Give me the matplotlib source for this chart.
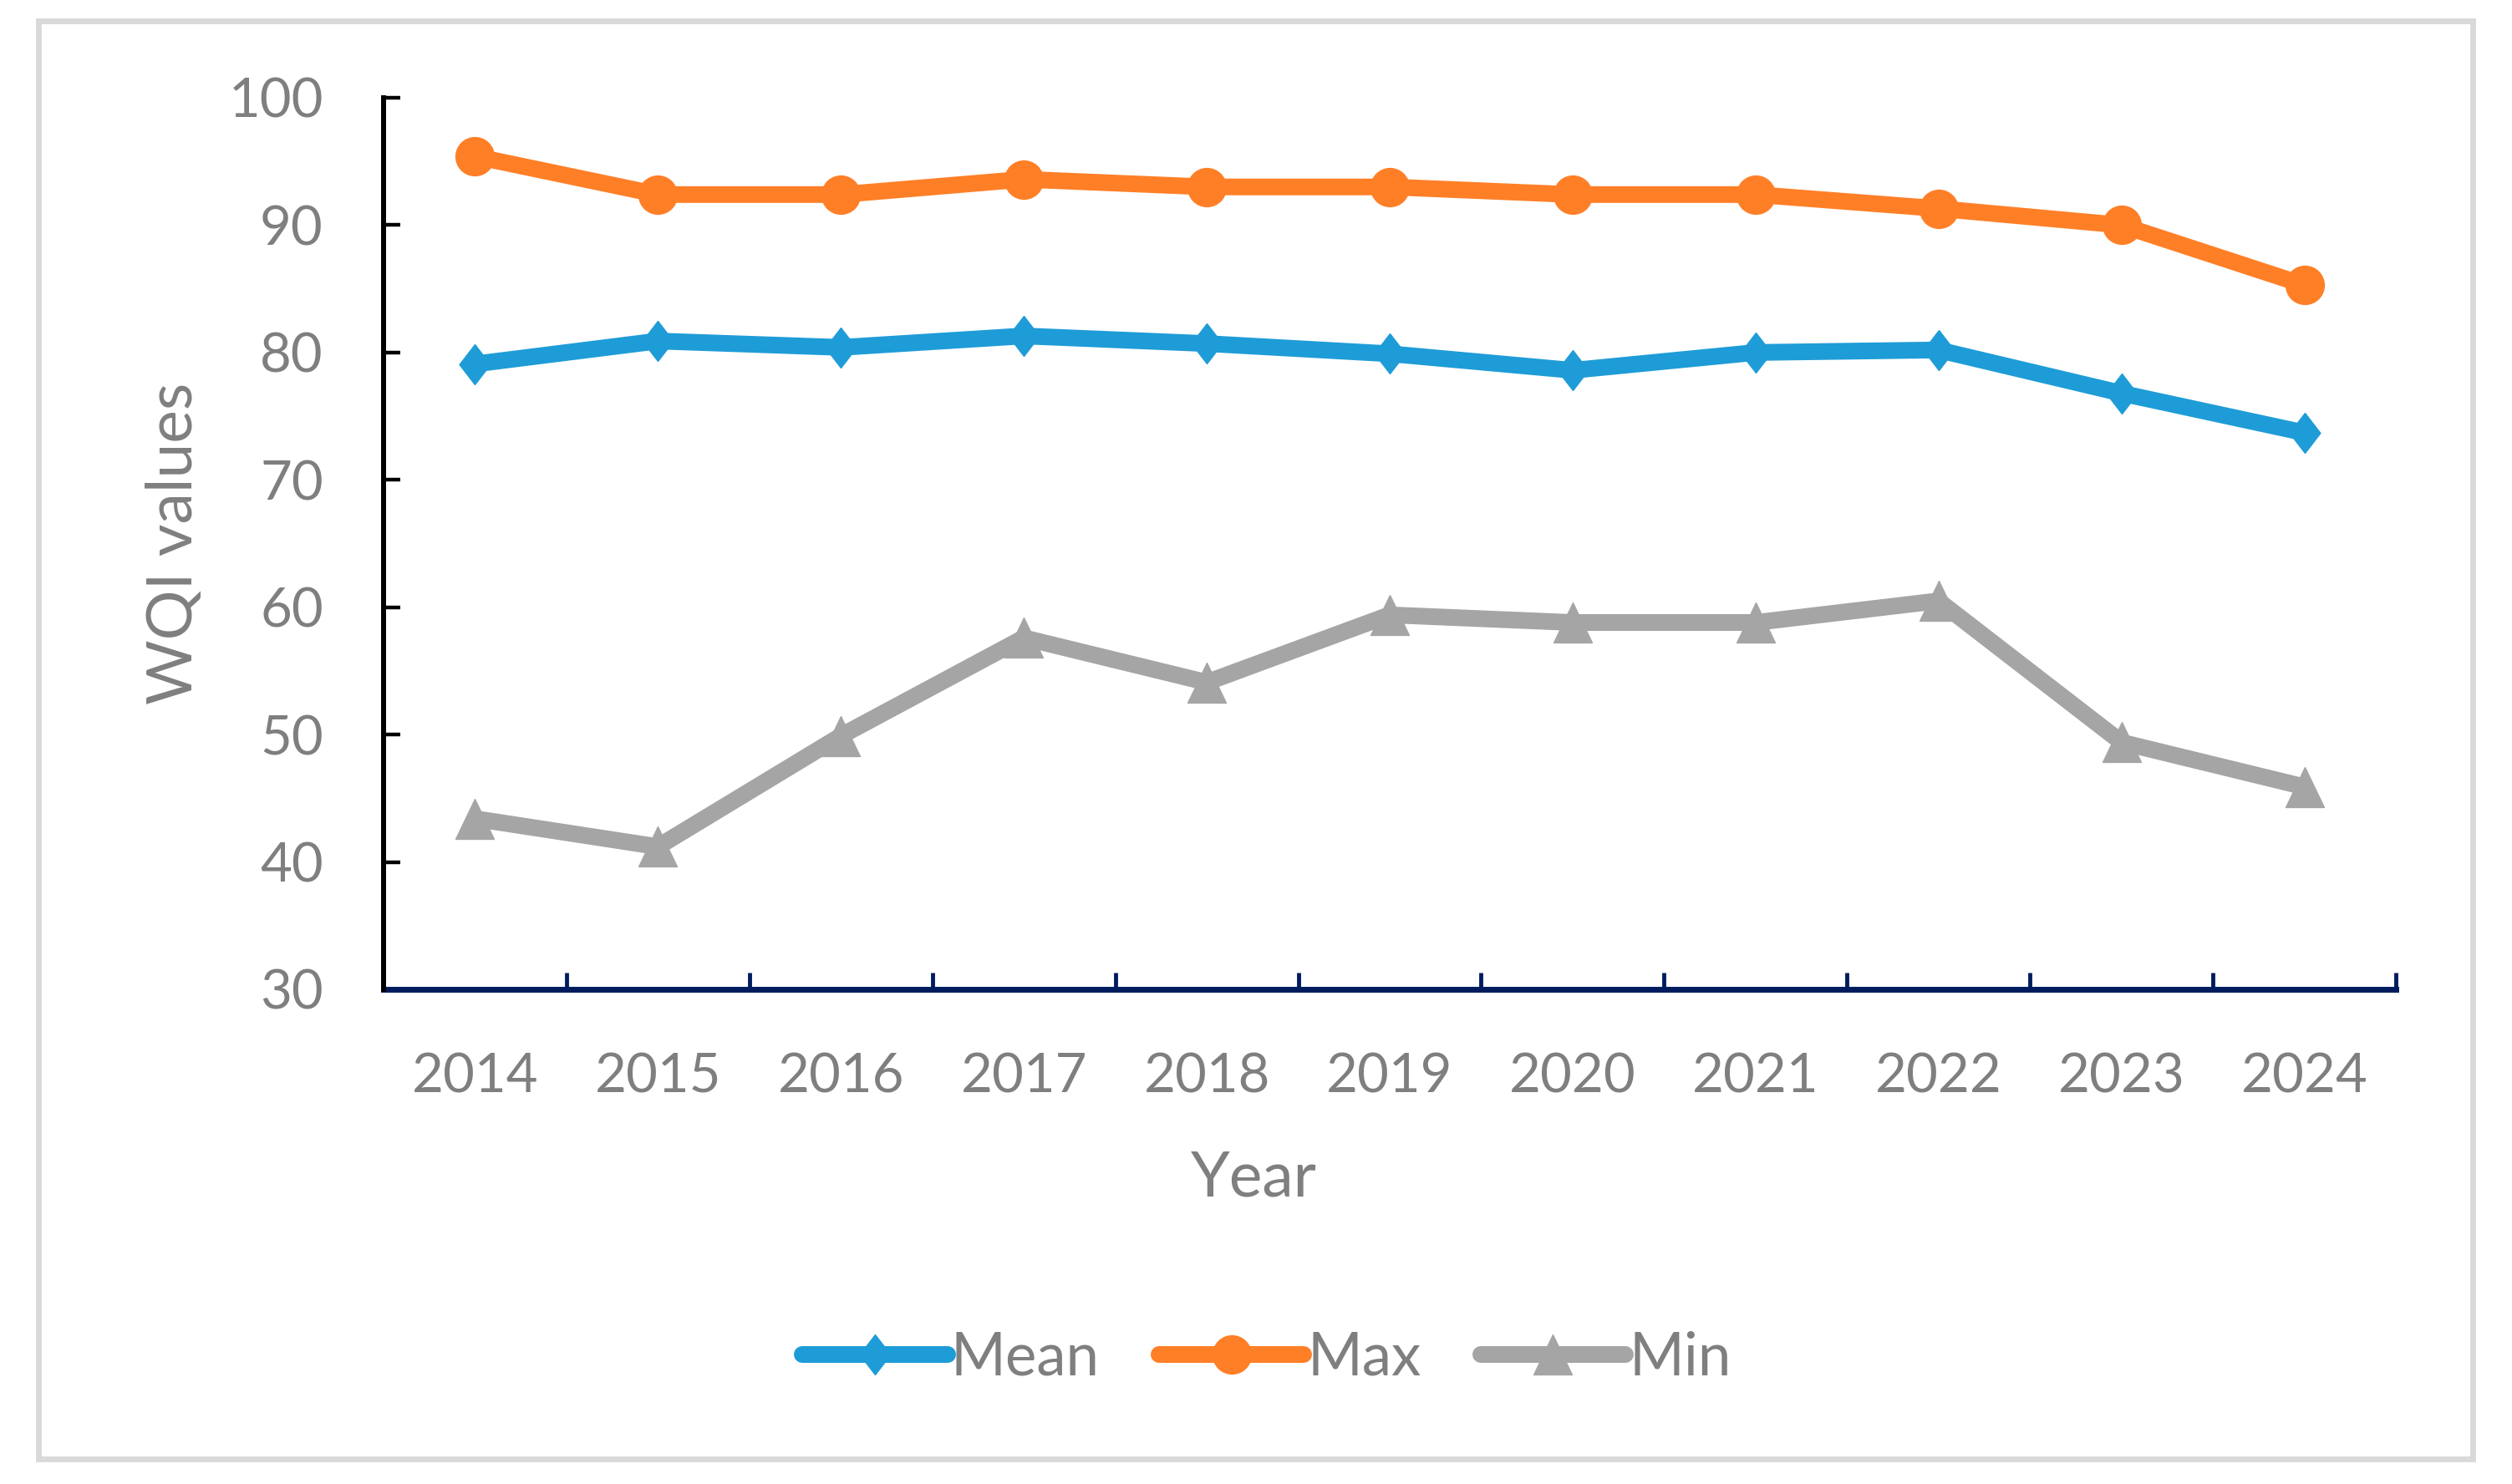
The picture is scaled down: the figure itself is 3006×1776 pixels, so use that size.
import matplotlib
matplotlib.use("Agg")
import matplotlib.pyplot as plt
from matplotlib.patches import Rectangle

plt.rcParams['font.family'] = ['Lato', 'DejaVu Sans']

years = ["2014", "2015", "2016", "2017", "2018", "2019", "2020", "2021", "2022", "2023", "2024"]
mean_vals = [79.1, 80.9, 80.4, 81.3, 80.7, 79.9, 78.6, 80.0, 80.2, 76.8, 73.7]
max_vals = [95.4, 92.4, 92.4, 93.6, 93.0, 93.0, 92.4, 92.4, 91.3, 90.0, 85.3]
min_vals = [43.4, 41.2, 49.9, 57.6, 54.1, 59.4, 58.8, 58.8, 60.5, 49.4, 45.9]
y_ticks = [30, 40, 50, 60, 70, 80, 90, 100]

W, H = 3006, 1776
DPI = 100
L, R, T, B = 459, 2867, 117, 1184
fig = plt.figure(figsize=(W / DPI, H / DPI), dpi=DPI)
ax = fig.add_axes([L / W, 1 - B / H, (R - L) / W, (B - T) / H])

TXT = '#7f7f7f'
C_MEAN = '#1e9cd7'
C_MAX = '#ff7f27'
C_MIN = '#a5a5a5'
NAVY = '#001c5e'

diamond = [(0, 1), (0.77, 0), (0, -1), (-0.77, 0), (0, 1)]
triangle = [(0, 1), (-0.96, -1), (0.96, -1), (0, 1)]

x = list(range(len(years)))
lw = 14.4
ms = 34.5
ax.plot(x, mean_vals, color=C_MEAN, lw=lw, marker=diamond, ms=ms, mec=C_MEAN, mfc=C_MEAN,
        solid_capstyle='round', solid_joinstyle='round', label='Mean', zorder=4)
ax.plot(x, max_vals, color=C_MAX, lw=lw, marker='o', ms=33, mec=C_MAX, mfc=C_MAX,
        solid_capstyle='round', solid_joinstyle='round', label='Max', zorder=4)
ax.plot(x, min_vals, color=C_MIN, lw=lw, marker=triangle, ms=ms, mec=C_MIN, mfc=C_MIN,
        solid_capstyle='round', solid_joinstyle='round', label='Min', zorder=4)

ax.set_xlim(-0.5, len(years) - 0.5)
ax.set_ylim(30, 100)
ax.set_yticks(y_ticks)
ax.set_yticklabels([str(v) for v in y_ticks])

ax.set_xticks([i - 0.5 for i in range(len(years) + 1)])
ax.set_xticklabels([])
ax.set_xticks(x, minor=True)
ax.set_xticklabels(years, minor=True)

for s in ['top', 'right']:
    ax.spines[s].set_visible(False)
ax.spines['left'].set_color('black')
ax.spines['left'].set_linewidth(4.3)
ax.spines['bottom'].set_color(NAVY)
ax.spines['bottom'].set_linewidth(5)
ax.spines['left'].set_zorder(3)

ax.tick_params(axis='y', which='major', direction='in', length=14.4, width=3.2, color='black',
               labelsize=47, labelcolor=TXT, pad=52)
ax.tick_params(axis='x', which='major', direction='in', length=14.4, width=3.5, color=NAVY,
               labelbottom=False)
ax.tick_params(axis='x', which='minor', length=0, labelsize=47, labelcolor=TXT, pad=54)

ax.set_ylabel('WQI values', fontsize=54, color=TXT)
ax.yaxis.label.set_va('center')
ax.yaxis.set_label_coords((208 - L) / (R - L), 0.5)
ax.set_xlabel('Year', fontsize=54, color=TXT)
ax.xaxis.label.set_va('center')
ax.xaxis.set_label_coords((1500 - L) / (R - L), -(1410 - B) / (B - T))

leg = fig.legend(loc='center', bbox_to_anchor=(1516 / W, 1 - 1625 / H), ncol=3, frameon=False,
                 fontsize=51, handlelength=2.45, handletextpad=0.06, columnspacing=1.0)
for t in leg.get_texts():
    t.set_color(TXT)

fig.add_artist(Rectangle((45.5 / W, 1 - 1745.5 / H), (2958.5 - 45.5) / W, (1745.5 - 25.5) / H,
                         transform=fig.transFigure, fill=False, lw=5, ec='#d9d9d9'))

fig.savefig('out.png', dpi=DPI, facecolor='white')
